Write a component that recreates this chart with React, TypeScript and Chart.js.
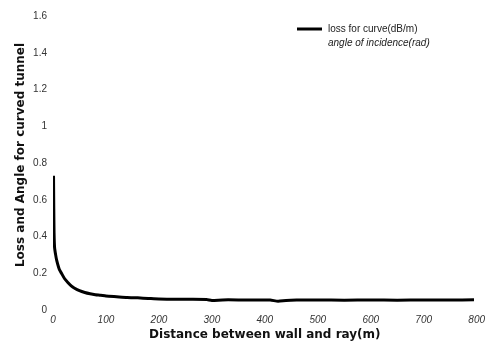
import React, { useEffect, useRef } from "react";
import { Chart, registerables } from "chart.js";

Chart.register(...registerables);

const distance = [1, 1.5, 2, 3, 5, 7, 12, 16, 22, 28, 35, 40, 50, 60, 70, 80, 90, 100, 120, 140, 160, 180, 200, 230, 260, 290, 300, 320, 350, 380, 410, 425, 440, 460, 500, 550, 600, 650, 700, 750, 795];
const lossForCurve = [0.73, 0.55, 0.42, 0.34, 0.3, 0.27, 0.22, 0.2, 0.17, 0.15, 0.13, 0.12, 0.105, 0.095, 0.088, 0.083, 0.08, 0.076, 0.072, 0.068, 0.066, 0.063, 0.06, 0.058, 0.058, 0.057, 0.052, 0.055, 0.055, 0.054, 0.054, 0.048, 0.052, 0.054, 0.055, 0.053, 0.055, 0.053, 0.055, 0.054, 0.056];
const angleOfIncidence: number[] = [];
const seriesNames = ["loss for curve(dB/m)", "angle of incidence(rad)"];
const xTitle = "Distance between wall and ray(m)";
const yTitle = "Loss and Angle for curved tunnel";

const overlay = {
  id: "overlay",
  afterDraw(chart: any) {
    const ctx = chart.ctx;
    ctx.save();
    ctx.fillStyle = "#111";
    ctx.font = "bold 12px 'DejaVu Sans'";
    ctx.textAlign = "center";
    ctx.textBaseline = "middle";
    ctx.translate(21, 155);
    ctx.rotate(-Math.PI / 2);
    ctx.fillText(yTitle, 0, 0);
    ctx.restore();
    ctx.save();
    ctx.strokeStyle = "#000";
    ctx.lineWidth = 3;
    ctx.beginPath();
    ctx.moveTo(297, 29);
    ctx.lineTo(322, 29);
    ctx.stroke();
    ctx.fillStyle = "#222";
    ctx.textAlign = "left";
    ctx.textBaseline = "middle";
    ctx.font = "10px 'Liberation Sans'";
    ctx.fillText(seriesNames[0], 328, 29);
    ctx.font = "italic 10px 'Liberation Sans'";
    ctx.fillText(seriesNames[1], 328, 43);
    ctx.restore();
  },
};

export default function App() {
  const ref = useRef<HTMLCanvasElement | null>(null);
  useEffect(() => {
    document.body.style.margin = "0";
    const chart = new Chart(ref.current!, {
      type: "line",
      data: {
        datasets: [
          {
            label: seriesNames[0],
            data: distance.map((d, i) => ({ x: d, y: lossForCurve[i] })),
            borderColor: "#000",
            borderWidth: 3,
            pointRadius: 0,
            tension: 0.2,
            fill: false,
          },
          {
            label: seriesNames[1],
            data: angleOfIncidence.map((v, i) => ({ x: distance[i], y: v })),
            borderColor: "#000",
            borderWidth: 1,
            pointRadius: 0,
          },
        ],
      },
      options: {
        animation: false,
        responsive: true,
        maintainAspectRatio: false,
        layout: { padding: { top: 16, right: 11, left: 0, bottom: 0 } },
        plugins: { legend: { display: false }, tooltip: { enabled: false } },
        scales: {
          x: {
            type: "linear",
            min: 0,
            max: 800,
            grid: { display: false, drawTicks: false },
            border: { display: false },
            ticks: {
              stepSize: 100,
              padding: 4,
              color: "#333",
              font: { family: "'Liberation Sans'", size: 10, style: "italic" },
              maxRotation: 0,
            },
            title: {
              display: true,
              text: xTitle,
              color: "#111",
              font: { family: "'DejaVu Sans'", size: 12, weight: "bold" },
              padding: { top: 0, bottom: 0 },
            },
            afterFit: (s: any) => {
              s.height = 32;
            },
          },
          y: {
            min: 0,
            max: 1.6,
            grid: { display: false, drawTicks: false },
            border: { display: false },
            ticks: {
              stepSize: 0.2,
              padding: 6,
              color: "#333",
              font: { family: "'Liberation Sans'", size: 10 },
              callback: (v: any) => String(Math.round(Number(v) * 10) / 10),
            },
            afterFit: (s: any) => {
              s.width = 53;
            },
          },
        },
      },
      plugins: [overlay],
    });
    return () => chart.destroy();
  }, []);
  return (
    <div style={{ position: "fixed", left: 0, top: 0, width: 489, height: 342, background: "#fff" }}>
      <canvas ref={ref} />
    </div>
  );
}
